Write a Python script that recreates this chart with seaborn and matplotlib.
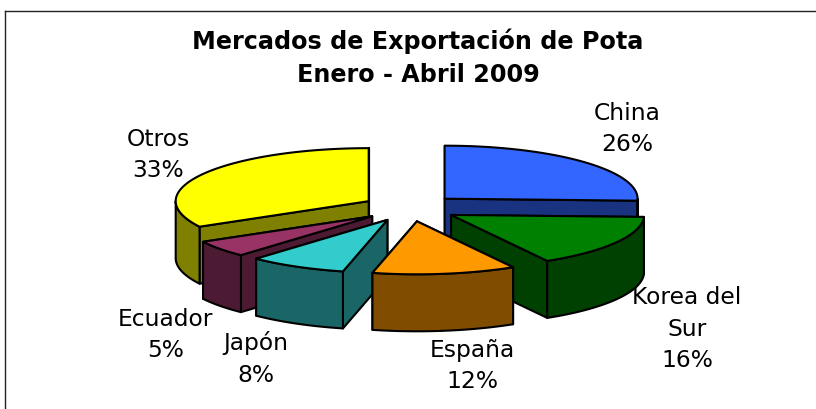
import numpy as np
import matplotlib
matplotlib.use("Agg")
import matplotlib.pyplot as plt
import seaborn as sns

# ---- data ----
categories = ["China", "Korea del\nSur", "España", "Japón", "Ecuador", "Otros"]
shares = [25.6, 16.1, 12.0, 8.2, 5.1, 33.0]
top_colors = ["#3366FF", "#008000", "#FF9900", "#33CCCC", "#993366", "#FFFF00"]
title_lines = ["Mercados de Exportación de Pota", "Enero - Abril 2009"]

# ---- geometry (canvas pixels) ----
CX, CY = 410, 208      # pie centre
RX, RY = 193, 53       # ellipse radii
DEPTH = 57             # extrusion height
EXPLODE, TILT = 48, 0.28
LW = 1.5
label_xy = [(627, 129), (687, 329), (472, 366), (256, 359), (166, 335), (158, 155)]
paint_order = [0, 5, 1, 4, 3, 2]

sns.set_theme(style="white")
plt.rcParams["font.family"] = ["DejaVu Sans"]

W, H = 816, 409
fig = plt.figure(figsize=(W / 100, H / 100), dpi=100, facecolor="white")
ax = fig.add_axes([5 / W, 0, (W - 5) / W, (H - 11) / H])
ax.set_xlim(5, W)
ax.set_ylim(H, 11)
ax.set_xticks([])
ax.set_yticks([])
sns.despine(ax=ax, top=False, left=False, right=True, bottom=True)
for s in ("top", "left"):
    ax.spines[s].set_color("#222222")
    ax.spines[s].set_linewidth(1.0)


def dark(c):
    r, g, b = matplotlib.colors.to_rgb(c)
    return (r / 2, g / 2, b / 2)


def rim(ox, oy, deg):
    a = np.radians(deg)
    return np.column_stack([ox + RX * np.sin(a), oy - RY * np.cos(a)])


def poly(pts, color, z):
    ax.fill(pts[:, 0], pts[:, 1], facecolor=color, edgecolor="black",
            linewidth=LW, joinstyle="round", zorder=z)


edges = np.cumsum([0] + shares) / sum(shares) * 360
z = 1
for i in paint_order:
    a0, a1 = edges[i], edges[i + 1]
    mid = np.radians((a0 + a1) / 2)
    ox = CX + EXPLODE * np.sin(mid)
    oy = CY - EXPLODE * TILT * np.cos(mid)
    wall = dark(top_colors[i])
    apex = np.array([[ox, oy]])
    drop = np.array([0, DEPTH])

    # radial walls, rear one first
    ends = [rim(ox, oy, np.array([a])) for a in (a0, a1)]
    ends.sort(key=lambda p: p[0, 1])
    for e in ends:
        quad = np.vstack([apex, e, e + drop, apex + drop])
        poly(quad, wall, z)
        z += 1

    # outer wall: only the part of the rim facing the viewer
    lo, hi = max(a0, 90), min(a1, 270)
    if hi > lo:
        arc = rim(ox, oy, np.linspace(lo, hi, 40))
        poly(np.vstack([arc, (arc + drop)[::-1]]), wall, z)
        z += 1

    # top face
    arc = rim(ox, oy, np.linspace(a0, a1, 80))
    poly(np.vstack([apex, arc]), top_colors[i], z)
    z += 1

for name, val, (x, y) in zip(categories, shares, label_xy):
    ax.text(x, y, f"{name}\n{round(val)}%", ha="center", va="center", ma="center",
            fontsize=16.8, color="black", linespacing=1.45, zorder=z)

ax.text(418, 58, "\n".join(title_lines), ha="center", va="center", ma="center",
        fontsize=17.2, fontweight="bold", color="black", linespacing=1.5, zorder=z)

fig.savefig("out.png", dpi=100, facecolor="white")
